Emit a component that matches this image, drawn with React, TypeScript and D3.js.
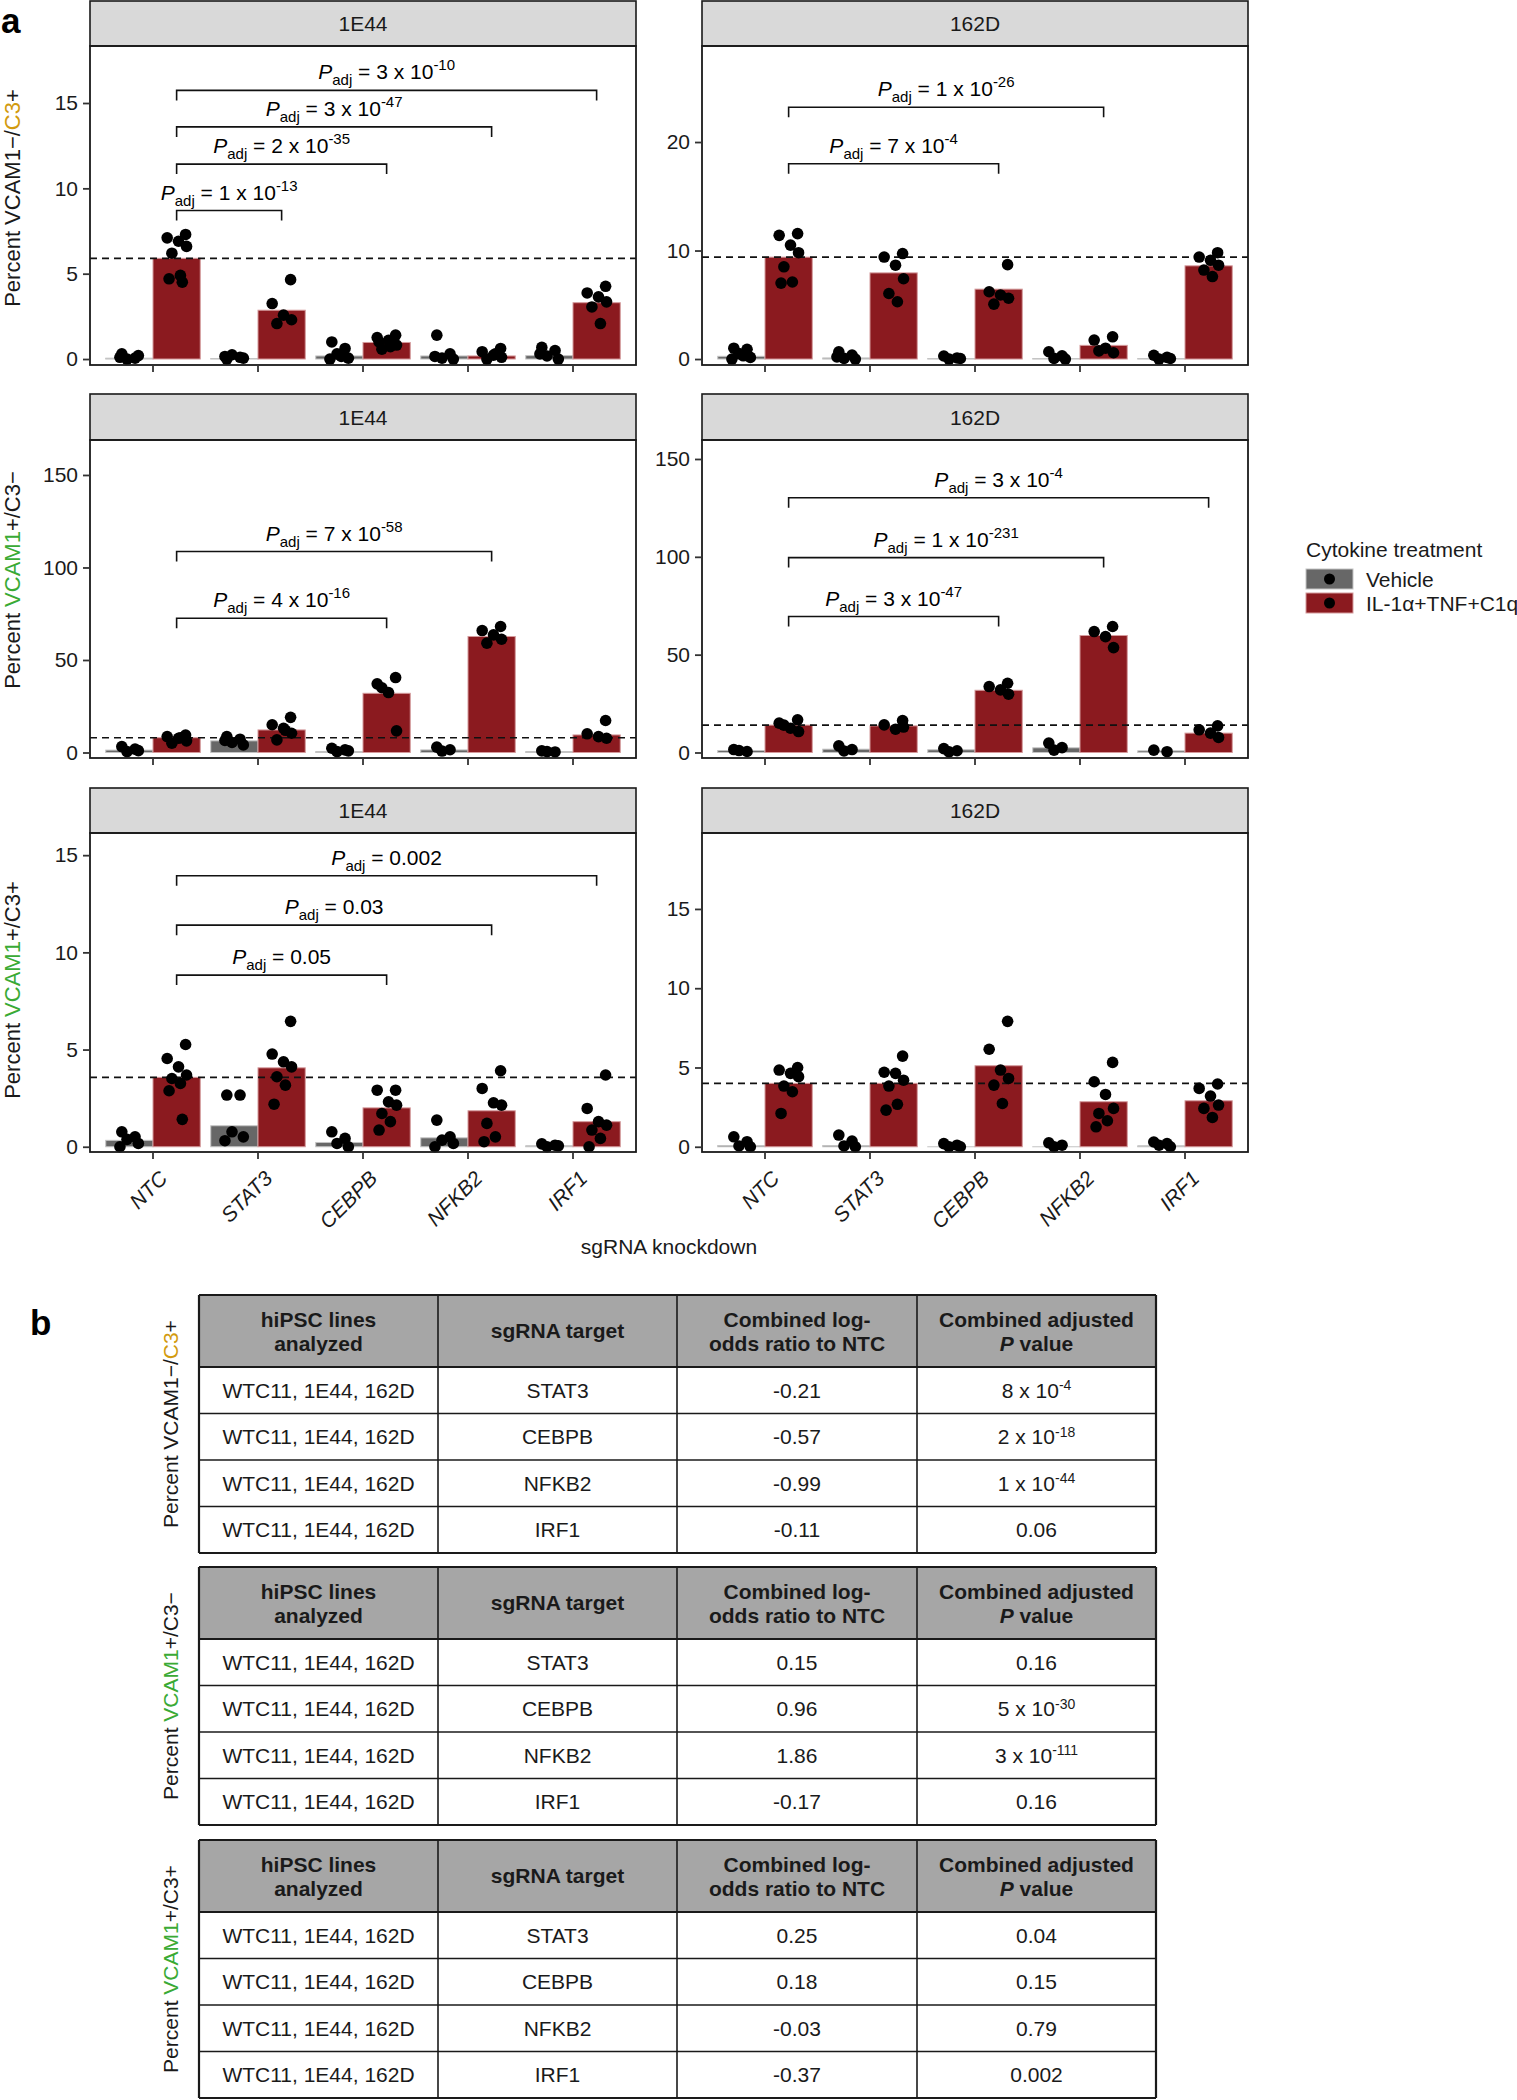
import React, { useEffect, useRef } from 'react';
import * as d3 from 'd3';

// knockdown targets and treatment groups
const genes = ['NTC', 'STAT3', 'CEBPB', 'NFKB2', 'IRF1'];
const treatments = ['Vehicle', 'IL-1α+TNF+C1q'];
const cellLines = ['1E44', '162D'];

// ---- Percent VCAM1-/C3+ ----
const negPos1E44Vehicle = [0.05, 0.03, 0.18, 0.18, 0.2];
const negPos1E44Cytokine = [5.9, 2.86, 0.97, 0.18, 3.3];
const negPos1E44VehicleDots = [[0.3, 0.05, 0.0, 0.2, 0.1], [0.0, 0.1, 0.25, 0.05, 0.15], [1.0, 0.62, 0.3, 0.05, 0.0, 0.15], [1.4, 0.3, 0.05, 0.0, 0.15], [0.68, 0.5, 0.18, 0.0, 0.3]];
const negPos1E44CytokineDots = [[7.3, 7.1, 6.9, 6.6, 6.2, 4.9, 4.7, 4.5], [4.65, 3.25, 2.57, 2.3, 2.08], [1.4, 1.26, 1.1, 0.82, 0.58, 0.72, 1.0], [0.62, 0.43, 0.23, 0.1, 0.0, 0.3], [4.26, 3.87, 3.64, 3.35, 3.05, 2.08]];
const negPos1E44Brackets = [
  { target: 'STAT3', y: 8.7, p: '1 x 10', exp: '-13' },
  { target: 'CEBPB', y: 11.42, p: '2 x 10', exp: '-35' },
  { target: 'NFKB2', y: 13.6, p: '3 x 10', exp: '-47' },
  { target: 'IRF1', y: 15.74, p: '3 x 10', exp: '-10' },
];

const negPos162DVehicle = [0.25, 0.1, 0.05, 0.05, 0.05];
const negPos162DCytokine = [9.39, 7.94, 6.44, 1.26, 8.59];
const negPos162DVehicleDots = [[1.0, 0.9, 0.5, 0.15, 0.0, 0.3], [0.67, 0.37, 0.06, 0.0, 0.2], [0.28, 0.1, 0.0, 0.05], [0.67, 0.3, 0.06, 0.0], [0.35, 0.15, 0.0, 0.05]];
const negPos162DCytokineDots = [[11.56, 11.4, 10.5, 9.8, 8.5, 7.1, 7.0], [9.72, 9.4, 8.65, 7.4, 6.04, 5.28], [8.7, 6.2, 5.9, 5.6, 5.06], [2.05, 1.75, 1.0, 0.58, 0.75], [9.8, 9.4, 9.1, 8.65, 8.2, 7.6]];
const negPos162DBrackets = [
  { target: 'CEBPB', y: 18.0, p: '7 x 10', exp: '-4' },
  { target: 'NFKB2', y: 23.2, p: '1 x 10', exp: '-26' },
];

// ---- Percent VCAM1+/C3- ----
const posNeg1E44Vehicle = [1.3, 6.3, 0.5, 1.4, 0.5];
const posNeg1E44Cytokine = [8.0, 12.2, 32.0, 62.7, 9.5];
const posNeg1E44VehicleDots = [[3.2, 1.8, 0.5, 1.0], [8.6, 7.2, 5.4, 4.1, 6.5], [2.3, 1.4, 0.5, 0.9], [2.9, 1.5, 0.8], [0.9, 0.3, 0.5]];
const posNeg1E44CytokineDots = [[9.4, 8.6, 7.7, 6.3, 5.0, 8.0], [19, 15, 13.1, 10.4, 6.8, 12], [40.5, 37.1, 32.4, 11.7, 35], [68.1, 65.9, 63.6, 61.2, 59.1], [17.3, 10.1, 8.6, 7.7]];
const posNeg1E44Brackets = [
  { target: 'CEBPB', y: 72.6, p: '4 x 10', exp: '-16' },
  { target: 'NFKB2', y: 108.6, p: '7 x 10', exp: '-58' },
];

const posNeg162DVehicle = [1.0, 1.7, 1.4, 2.4, 0.85];
const posNeg162DCytokine = [14.0, 13.6, 31.8, 59.8, 9.9];
const posNeg162DVehicleDots = [[1.5, 0.5, 1.0], [3.4, 1.5, 0.8], [2.0, 0.9, 0.3], [4.8, 2.5, 1.2], [1.2, 0.4]];
const posNeg162DCytokineDots = [[16.7, 15.0, 12.4, 10.7, 14], [16.3, 14.1, 11.9, 13], [35.4, 33.7, 32.0, 29.8], [64.4, 61.8, 59.2, 53.6], [13.6, 11.6, 9.9, 7.7]];
const posNeg162DBrackets = [
  { target: 'CEBPB', y: 69.5, p: '3 x 10', exp: '-47' },
  { target: 'NFKB2', y: 99.6, p: '1 x 10', exp: '-231' },
  { target: 'IRF1', y: 130.2, p: '3 x 10', exp: '-4' },
];

// ---- Percent VCAM1+/C3+ ----
const posPos1E44Vehicle = [0.33, 1.08, 0.22, 0.46, 0.05];
const posPos1E44Cytokine = [3.57, 4.06, 2.0, 1.85, 1.29];
const posPos1E44VehicleDots = [[0.77, 0.51, 0.38, 0.17, 0.0], [2.66, 2.66, 0.77, 0.51, 0.31], [0.77, 0.43, 0.17, 0.0], [1.37, 0.51, 0.34, 0.17, 0.0], [0.15, 0.08, 0.0, 0.05]];
const posPos1E44CytokineDots = [[5.26, 4.54, 4.11, 3.69, 3.51, 3.26, 2.88, 1.41], [6.45, 4.77, 4.37, 4.11, 3.6, 3.17, 2.19], [2.91, 2.91, 2.31, 2.14, 1.71, 1.29, 0.86], [3.91, 3.0, 2.26, 2.14, 1.2, 0.51, 0.26], [3.69, 1.97, 1.29, 1.11, 0.86, 0.43, 0.0]];
const posPos1E44Brackets = [
  { target: 'CEBPB', y: 8.83, p: '0.05', exp: '' },
  { target: 'NFKB2', y: 11.4, p: '0.03', exp: '' },
  { target: 'IRF1', y: 13.94, p: '0.002', exp: '' },
];

const posPos162DVehicle = [0.08, 0.08, 0.0, 0.0, 0.06];
const posPos162DCytokine = [4.0, 4.0, 5.11, 2.84, 2.9];
const posPos162DVehicleDots = [[0.63, 0.32, 0.05, 0.0], [0.74, 0.36, 0.05, 0.0], [0.2, 0.1, 0.0, 0.0], [0.25, 0.1, 0.0], [0.3, 0.2, 0.1, 0.0]];
const posPos162DCytokineDots = [[5.0, 4.84, 4.63, 4.42, 3.83, 3.47, 2.1], [5.72, 4.7, 4.63, 4.2, 3.83, 2.68, 2.31], [7.91, 6.15, 4.84, 4.31, 3.89, 2.73], [5.32, 4.1, 3.3, 2.42, 2.1, 1.64, 1.26], [3.96, 3.68, 3.2, 2.63, 2.42, 1.85]];
const posPos162DBrackets = [];

// y tick labels per row
const ticksNegPos1E44 = [0, 5, 10, 15];
const ticksNegPos162D = [0, 10, 20];
const ticksPosNeg = [0, 50, 100, 150];
const ticksPosPos = [0, 5, 10, 15];

// ---- table (panel b) ----
const tableHeader = [['hiPSC lines', 'analyzed'], ['sgRNA target'], ['Combined log-', 'odds ratio to NTC'], ['Combined adjusted', 'P value']];
const hipscLines = 'WTC11, 1E44, 162D';
const tableTargets = ['STAT3', 'CEBPB', 'NFKB2', 'IRF1'];
const negPosLogOdds = [-0.21, -0.57, -0.99, -0.11];
const negPosPadj = [['8 x 10', '-4'], ['2 x 10', '-18'], ['1 x 10', '-44'], ['0.06', '']];
const posNegLogOdds = [0.15, 0.96, 1.86, -0.17];
const posNegPadj = [['0.16', ''], ['5 x 10', '-30'], ['3 x 10', '-111'], ['0.16', '']];
const posPosLogOdds = [0.25, 0.18, -0.03, -0.37];
const posPosPadj = [['0.04', ''], ['0.15', ''], ['0.79', ''], ['0.002', '']];

const FONT = '"Liberation Sans", Arial, Helvetica, sans-serif';
const RED = '#8b1a1f';
const GREY = '#676767';
const GREEN = '#3aaa35';
const GOLD = '#d29a0e';
const INK = '#1a1a1a';

const titleNegPos = [{ t: 'Percent VCAM1\u2212/', c: INK }, { t: 'C3', c: GOLD }, { t: '+', c: INK }];
const titlePosNeg = [{ t: 'Percent ', c: INK }, { t: 'VCAM1', c: GREEN }, { t: '+/C3\u2212', c: INK }];
const titlePosPos = [{ t: 'Percent ', c: INK }, { t: 'VCAM1', c: GREEN }, { t: '+/C3+', c: INK }];

// jitter offsets (fraction of bar width) for the replicate dots
const jitter = [-0.16, 0.12, -0.05, 0.19, -0.2, 0.04, 0.21, -0.1, 0.08];

function App() {
  const svgRef = useRef(null);

  useEffect(() => {
    const svg = d3.select(svgRef.current);
    svg.selectAll('*').remove();
    svg.style('font-family', FONT);

    const cols = [{ x0: 90, x1: 636 }, { x0: 702, x1: 1248 }];
    const rows = [
      { stripTop: 1, top: 46, bottom: 365, titleY: 198 },
      { stripTop: 394, top: 440, bottom: 758, titleY: 580 },
      { stripTop: 788, top: 833, bottom: 1152, titleY: 990 },
    ];

    const panels = [
      { row: 0, col: 0, domain: [-0.35, 18.34], ticks: ticksNegPos1E44, veh: negPos1E44Vehicle, cyt: negPos1E44Cytokine, vehDots: negPos1E44VehicleDots, cytDots: negPos1E44CytokineDots, brackets: negPos1E44Brackets },
      { row: 0, col: 1, domain: [-0.55, 28.85], ticks: ticksNegPos162D, veh: negPos162DVehicle, cyt: negPos162DCytokine, vehDots: negPos162DVehicleDots, cytDots: negPos162DCytokineDots, brackets: negPos162DBrackets },
      { row: 1, col: 0, domain: [-2.97, 168.9], ticks: ticksPosNeg, veh: posNeg1E44Vehicle, cyt: posNeg1E44Cytokine, vehDots: posNeg1E44VehicleDots, cytDots: posNeg1E44CytokineDots, brackets: posNeg1E44Brackets },
      { row: 1, col: 1, domain: [-2.81, 159.7], ticks: ticksPosNeg, veh: posNeg162DVehicle, cyt: posNeg162DCytokine, vehDots: posNeg162DVehicleDots, cytDots: posNeg162DCytokineDots, brackets: posNeg162DBrackets },
      { row: 2, col: 0, domain: [-0.27, 16.14], ticks: ticksPosPos, veh: posPos1E44Vehicle, cyt: posPos1E44Cytokine, vehDots: posPos1E44VehicleDots, cytDots: posPos1E44CytokineDots, brackets: posPos1E44Brackets },
      { row: 2, col: 1, domain: [-0.33, 19.79], ticks: ticksPosPos, veh: posPos162DVehicle, cyt: posPos162DCytokine, vehDots: posPos162DVehicleDots, cytDots: posPos162DCytokineDots, brackets: posPos162DBrackets },
    ];

    panels.forEach(p => {
      const { x0, x1 } = cols[p.col];
      const { stripTop, top, bottom } = rows[p.row];
      const g = svg.append('g');

      const x = d3.scaleBand().domain(genes).range([x0, x1]).paddingInner(0.1).paddingOuter(0.15);
      const sub = d3.scaleBand().domain(treatments).range([0, x.bandwidth()]);
      const y = d3.scaleLinear().domain(p.domain).range([bottom, top]);
      const centre = (gene, t) => x(gene) + sub(t) + sub.bandwidth() / 2;

      // strip
      g.append('rect')
        .attr('x', x0).attr('y', stripTop)
        .attr('width', x1 - x0).attr('height', top - stripTop)
        .attr('fill', '#d9d9d9').attr('stroke', INK).attr('stroke-width', 1.6);
      g.append('text')
        .attr('x', (x0 + x1) / 2).attr('y', (stripTop + top) / 2).attr('dy', '0.36em')
        .attr('text-anchor', 'middle').attr('font-size', 21).attr('fill', INK)
        .text(cellLines[p.col]);

      // bars
      const barRows = genes.flatMap((gene, i) => [
        { gene, t: treatments[0], v: p.veh[i] },
        { gene, t: treatments[1], v: p.cyt[i] },
      ]);
      g.selectAll('.bar')
        .data(barRows)
        .enter()
        .append('rect')
        .attr('x', d => x(d.gene) + sub(d.t))
        .attr('width', sub.bandwidth())
        .attr('y', d => y(d.v))
        .attr('height', d => Math.max(0.01, y(0) - y(d.v)))
        .attr('fill', d => (d.t === treatments[0] ? GREY : RED))
        .attr('stroke', d => (d.t === treatments[0] ? '#c4c4c4' : '#d49a9c'))
        .attr('stroke-width', 1);

      // NTC reference line
      g.append('line')
        .attr('x1', x0).attr('x2', x1)
        .attr('y1', y(p.cyt[0])).attr('y2', y(p.cyt[0]))
        .attr('stroke', '#111').attr('stroke-width', 1.6)
        .attr('stroke-dasharray', '7,5');

      // replicate dots
      const dots = genes.flatMap((gene, i) => [
        ...p.vehDots[i].map((v, j) => ({ cx: centre(gene, treatments[0]) + jitter[j % jitter.length] * sub.bandwidth(), v })),
        ...p.cytDots[i].map((v, j) => ({ cx: centre(gene, treatments[1]) + jitter[(j + 3) % jitter.length] * sub.bandwidth(), v })),
      ]);
      g.selectAll('.dot')
        .data(dots)
        .enter()
        .append('circle')
        .attr('cx', d => d.cx)
        .attr('cy', d => y(d.v))
        .attr('r', 5.8)
        .attr('fill', '#000');

      // significance brackets
      p.brackets.forEach(b => {
        const xl = centre('NTC', treatments[1]);
        const xr = centre(b.target, treatments[1]);
        const yb = y(b.y);
        g.append('path')
          .attr('d', `M${xl},${yb + 10}V${yb}H${xr}V${yb + 10}`)
          .attr('fill', 'none').attr('stroke', '#111').attr('stroke-width', 1.6);
        const t = g.append('text')
          .attr('x', (xl + xr) / 2).attr('y', yb - 11)
          .attr('text-anchor', 'middle').attr('font-size', 21).attr('fill', '#000');
        t.append('tspan').attr('font-style', 'italic').text('P');
        t.append('tspan').attr('font-size', 15).attr('dy', 6).text('adj');
        t.append('tspan').attr('dy', -6).text(' = ' + b.p);
        if (b.exp) t.append('tspan').attr('font-size', 15).attr('dy', -9).text(b.exp);
      });

      // panel border
      g.append('rect')
        .attr('x', x0).attr('y', top)
        .attr('width', x1 - x0).attr('height', bottom - top)
        .attr('fill', 'none').attr('stroke', INK).attr('stroke-width', 1.8);

      // y axis
      const ya = g.append('g')
        .attr('transform', `translate(${x0},0)`)
        .call(d3.axisLeft(y).tickValues(p.ticks).tickSize(7).tickPadding(5).tickFormat(d3.format('d')));
      ya.select('.domain').remove();
      ya.selectAll('line').attr('stroke', '#333').attr('stroke-width', 1.8);
      ya.selectAll('text').attr('font-size', 21).attr('font-family', FONT).attr('fill', INK);

      // x ticks
      const xa = g.append('g')
        .attr('transform', `translate(0,${bottom})`)
        .call(d3.axisBottom(x).tickSize(7).tickFormat(() => ''));
      xa.select('.domain').remove();
      xa.selectAll('line').attr('stroke', '#333').attr('stroke-width', 1.8);

      if (p.row === 2) {
        g.selectAll('.xlab')
          .data(genes)
          .enter()
          .append('text')
          .attr('transform', d => `translate(${x(d) + x.bandwidth() / 2 + 5},${bottom + 17}) rotate(-45)`)
          .attr('dy', '0.72em')
          .attr('text-anchor', 'end')
          .attr('font-size', 21).attr('font-style', 'italic').attr('fill', INK)
          .text(d => d);
      }
    });

    // rotated titles (y axis of panel a, row labels of panel b)
    const rotTitle = (bx, cy, spans, size) => {
      const t = svg.append('text')
        .attr('transform', `translate(${bx},${cy}) rotate(-90)`)
        .attr('text-anchor', 'middle').attr('font-size', size);
      spans.forEach(s => t.append('tspan').attr('fill', s.c).text(s.t));
    };
    rotTitle(20, rows[0].titleY, titleNegPos, 22);
    rotTitle(20, rows[1].titleY, titlePosNeg, 22);
    rotTitle(20, rows[2].titleY, titlePosPos, 22);

    // x axis title
    svg.append('text')
      .attr('x', (cols[0].x0 + cols[1].x1) / 2).attr('y', 1254)
      .attr('text-anchor', 'middle').attr('font-size', 21).attr('fill', INK)
      .text('sgRNA knockdown');

    // legend
    const lg = svg.append('g').attr('transform', 'translate(1306,0)');
    lg.append('text').attr('x', 0).attr('y', 557).attr('font-size', 21).attr('fill', INK).text('Cytokine treatment');
    treatments.forEach((t, i) => {
      const ky = 569 + i * 24;
      lg.append('rect').attr('x', 0).attr('y', ky).attr('width', 47).attr('height', 20)
        .attr('fill', i === 0 ? GREY : RED).attr('stroke', i === 0 ? '#c4c4c4' : '#d49a9c');
      lg.append('circle').attr('cx', 23.5).attr('cy', ky + 10).attr('r', 5.5).attr('fill', '#000');
      lg.append('text').attr('x', 60).attr('y', ky + 10).attr('dy', '0.36em')
        .attr('font-size', 21).attr('fill', INK).text(t);
    });

    // panel labels
    svg.append('text').attr('x', 1).attr('y', 33).attr('font-size', 35).attr('font-weight', 'bold').text('a');
    svg.append('text').attr('x', 30).attr('y', 1335).attr('font-size', 35).attr('font-weight', 'bold').text('b');

    // ---- tables ----
    const colX = [199, 438, 677, 917, 1156];
    const headH = 72;
    const rowH = 46.5;
    const tables = [
      { top: 1295, title: titleNegPos, logOdds: negPosLogOdds, padj: negPosPadj },
      { top: 1567, title: titlePosNeg, logOdds: posNegLogOdds, padj: posNegPadj },
      { top: 1840, title: titlePosPos, logOdds: posPosLogOdds, padj: posPosPadj },
    ];

    tables.forEach(tb => {
      const g = svg.append('g');
      const bottom = tb.top + headH + rowH * tableTargets.length;
      const mid = i => (colX[i] + colX[i + 1]) / 2;

      g.append('rect').attr('x', colX[0]).attr('y', tb.top)
        .attr('width', colX[4] - colX[0]).attr('height', headH).attr('fill', '#a6a6a6');

      // header text
      tableHeader.forEach((lines, i) => {
        lines.forEach((line, j) => {
          const yy = lines.length === 1 ? tb.top + 43 : tb.top + 32 + j * 24;
          const t = g.append('text').attr('x', mid(i)).attr('y', yy)
            .attr('text-anchor', 'middle').attr('font-size', 21).attr('font-weight', 'bold').attr('fill', INK);
          if (line === 'P value') {
            t.append('tspan').attr('font-style', 'italic').text('P');
            t.append('tspan').text(' value');
          } else {
            t.text(line);
          }
        });
      });

      // body
      tableTargets.forEach((target, r) => {
        const cy = tb.top + headH + rowH * r + rowH / 2;
        const cells = [hipscLines, target, tb.logOdds[r].toFixed(2)];
        cells.forEach((c, i) => {
          g.append('text').attr('x', mid(i)).attr('y', cy).attr('dy', '0.36em')
            .attr('text-anchor', 'middle').attr('font-size', 21).attr('fill', INK).text(c);
        });
        const pt = g.append('text').attr('x', mid(3)).attr('y', cy).attr('dy', '0.36em')
          .attr('text-anchor', 'middle').attr('font-size', 21).attr('fill', INK);
        pt.append('tspan').text(tb.padj[r][0]);
        if (tb.padj[r][1]) pt.append('tspan').attr('font-size', 14).attr('dy', '-0.55em').text(tb.padj[r][1]);
      });

      // grid lines
      const hy = [tb.top, tb.top + headH, ...tableTargets.map((_, r) => tb.top + headH + rowH * (r + 1))];
      hy.forEach((yy, k) => {
        g.append('line').attr('x1', colX[0]).attr('x2', colX[4]).attr('y1', yy).attr('y2', yy)
          .attr('stroke', INK).attr('stroke-width', k === 0 || k === hy.length - 1 || k === 1 ? 2.2 : 1.6);
      });
      colX.forEach((xx, k) => {
        g.append('line').attr('x1', xx).attr('x2', xx).attr('y1', tb.top).attr('y2', bottom)
          .attr('stroke', INK).attr('stroke-width', k === 0 || k === 4 ? 2.2 : 1.6);
      });

      rotTitle(178, (tb.top + bottom) / 2, tb.title, 21);
    });
  }, []);

  return (
    <svg
      ref={svgRef}
      width={1517}
      height={2100}
      style={{ position: 'absolute', left: 0, top: 0, background: '#fff' }}
    />
  );
}

export default App;
